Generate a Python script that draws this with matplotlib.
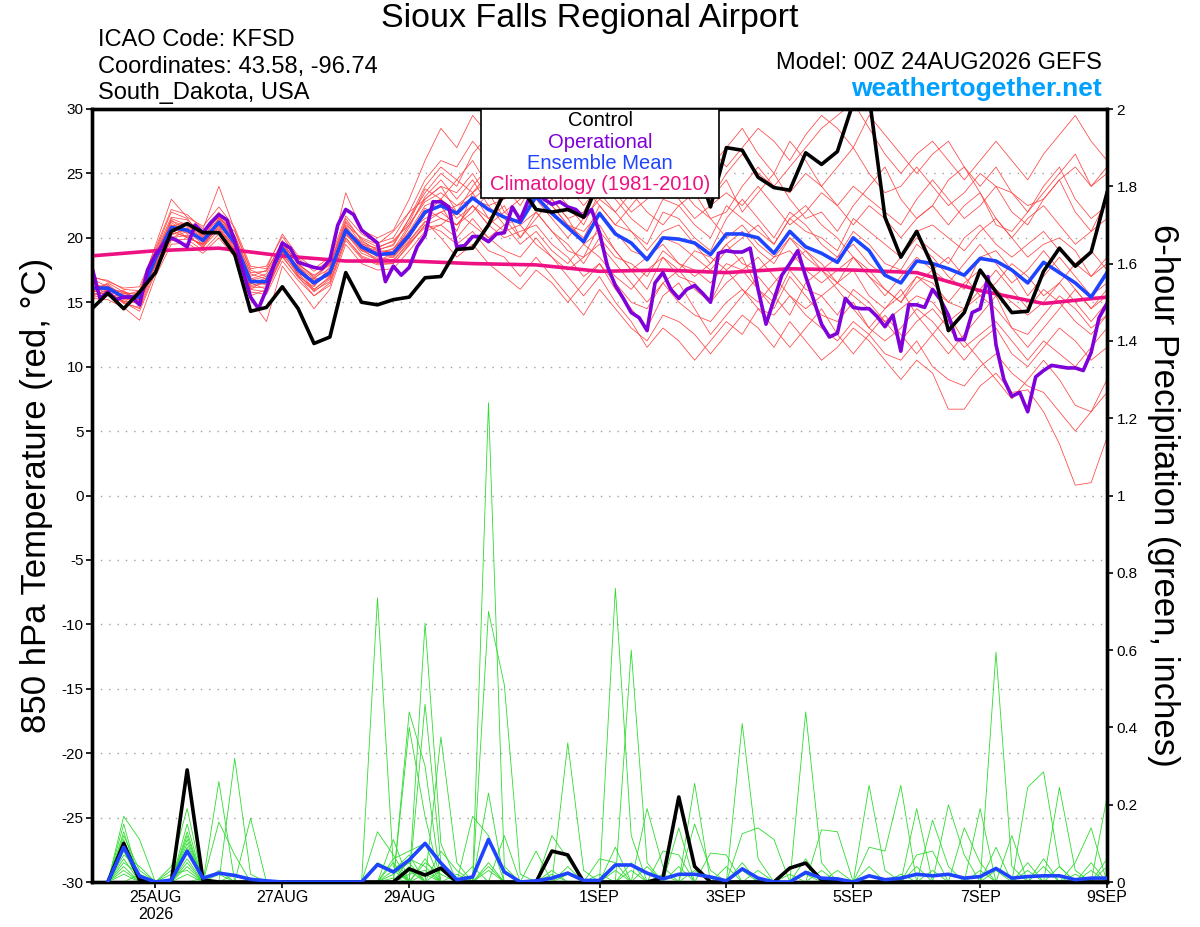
import numpy as np
import matplotlib
matplotlib.use("Agg")
import matplotlib.pyplot as plt
from matplotlib.patches import Rectangle

plt.rcParams['font.family'] = ['Liberation Sans', 'DejaVu Sans']

# ---------------- data ----------------
title = "Sioux Falls Regional Airport"
info_left = ["ICAO Code: KFSD", "Coordinates: 43.58, -96.74", "South_Dakota, USA"]
model_txt = "Model: 00Z 24AUG2026 GEFS"
site_txt = "weathertogether.net"
legend_labels = ["Control", "Operational", "Ensemble Mean", "Climatology (1981-2010)"]

# x in 6-hour steps from 00Z 24AUG2026
xtick_pos = [4, 12, 20, 32, 40, 48, 56, 64]
xtick_labels = ["25AUG\n2026", "27AUG", "29AUG", "1SEP", "3SEP", "5SEP", "7SEP", "9SEP"]
ytick_left = [-30, -25, -20, -15, -10, -5, 0, 5, 10, 15, 20, 25, 30]
ytick_right = [0, 0.2, 0.4, 0.6, 0.8, 1, 1.2, 1.4, 1.6, 1.8, 2]
ytick_right_labels = ["0", "0.2", "0.4", "0.6", "0.8", "1", "1.2", "1.4", "1.6", "1.8", "2"]

# control 850 hPa temperature (6-hourly, 65 values)
control_t = [14.5, 15.7, 14.5, 15.8, 17.3, 20.5, 21.1, 20.4, 20.4, 18.7,
             14.3, 14.6, 16.2, 14.5, 11.8, 12.3, 17.3, 15.0, 14.8, 15.2,
             15.4, 16.9, 17.0, 19.1, 19.2, 21.0, 23.5, 24.0, 22.2, 22.0,
             22.2, 21.6, 24.5, 26.0, 25.0, 27.0, 26.0, 25.0, 26.0, 22.4,
             27.0, 26.8, 24.7, 23.9, 23.7, 26.6, 25.7, 26.7, 30.5, 31.0,
             21.6, 18.5, 20.5, 17.8, 12.8, 14.2, 17.5, 15.8, 14.2, 14.3,
             17.4, 19.2, 17.8, 18.9, 23.5]

# ensemble mean temperature (6-hourly)
mean_t = [16.1, 16.1, 15.4, 15.4, 18.4, 20.8, 20.6, 19.8, 21.2, 19.6,
          16.6, 16.6, 19.2, 17.5, 16.5, 17.3, 20.6, 19.3, 18.7, 18.8,
          20.2, 22.0, 22.5, 21.9, 23.1, 22.2, 21.6, 21.2, 23.2, 21.9,
          20.8, 19.7, 21.9, 20.3, 19.6, 18.3, 20.0, 19.9, 19.6, 18.7,
          20.3, 20.3, 20.0, 18.8, 20.5, 19.3, 18.8, 18.1, 20.0, 19.0,
          17.1, 16.5, 18.2, 18.0, 17.6, 17.1, 18.4, 18.2, 17.5, 16.5,
          18.1, 17.3, 16.5, 15.4, 17.3]

# operational temperature (3-hourly, 129 values)
oper_t = [17.7, 15.3, 15.8, 15.2, 15.4, 15.4, 14.8, 17.5, 18.7, 19.5,
          20.0, 19.7, 19.3, 21.0, 20.4, 21.2, 21.8, 21.4, 19.8, 17.5,
          15.4, 14.5, 16.0, 18.0, 19.6, 19.2, 18.1, 17.9, 17.7, 17.6,
          18.3, 21.0, 22.2, 21.8, 20.6, 20.1, 19.6, 16.6, 17.8, 17.1,
          17.7, 19.3, 20.2, 22.8, 22.8, 22.4, 19.3, 19.4, 20.1, 20.1,
          19.7, 20.3, 20.4, 22.4, 21.4, 22.9, 23.5, 23.0, 22.6, 22.8,
          22.4, 22.2, 21.6, 22.2, 20.4, 17.8, 16.3, 15.3, 14.2, 13.8,
          12.8, 16.5, 17.3, 16.0, 15.3, 16.0, 16.3, 15.7, 15.0, 18.8,
          19.0, 18.9, 18.9, 19.2, 16.0, 13.3, 15.2, 17.1, 18.0, 19.0,
          17.0, 15.2, 13.3, 12.3, 12.6, 15.3, 14.6, 14.5, 14.5, 13.9,
          13.1, 14.0, 11.2, 14.8, 14.8, 14.6, 16.0, 15.2, 14.0, 12.1,
          12.1, 14.2, 14.5, 17.0, 11.7, 9.0, 7.7, 8.0, 6.5, 9.2,
          9.7, 10.1, 10.0, 9.9, 9.9, 9.7, 11.1, 13.8, 14.9]

# climatology (daily, 17 values)
clim_t = [18.6, 19.0, 19.2, 18.6, 18.2, 18.2, 18.0, 17.9, 17.4, 17.5,
          17.3, 17.6, 17.5, 17.3, 15.9, 14.9, 15.4]

# ensemble members temperature (6-hourly, 65 values each)
mem_t01 = [16.5, 16.0, 15.8, 15.0, 18.0, 21.5, 21.0, 20.5, 22.0, 20.0,
           17.0, 17.5, 19.5, 18.0, 17.0, 18.0, 21.0, 20.0, 19.5, 20.5,
           22.0, 24.5, 26.0, 25.5, 27.5, 26.0, 28.5, 27.0, 29.5, 28.0,
           26.5, 27.5, 29.0, 28.0, 26.0, 27.5, 28.5, 26.0, 27.0, 25.5,
           27.0, 28.5, 26.5, 25.0, 27.5, 26.0, 24.0, 25.5, 27.0, 25.0,
           23.5, 24.0, 25.5, 24.0, 22.5, 23.5, 25.0, 24.0, 22.0, 21.0,
           23.0, 24.5, 22.0, 20.5, 23.0]
mem_t02 = [15.5, 15.8, 15.0, 14.5, 17.5, 20.0, 20.5, 19.5, 20.8, 19.0,
           15.5, 16.0, 18.5, 17.0, 15.5, 16.5, 20.0, 18.5, 18.0, 18.0,
           19.5, 21.0, 20.5, 19.5, 20.5, 19.0, 18.5, 17.0, 18.5, 17.0,
           15.5, 14.0, 16.0, 14.5, 13.0, 12.0, 14.0, 13.5, 12.5, 11.0,
           12.5, 14.0, 13.0, 11.5, 13.5, 12.0, 10.5, 11.5, 13.0, 12.0,
           10.5, 9.0, 10.5, 9.5, 6.7, 6.7, 8.5, 9.5, 8.0, 8.2,
           6.5, 4.0, 0.8, 1.0, 4.5]
mem_t03 = [16.0, 15.5, 15.5, 15.2, 18.5, 21.0, 20.0, 19.5, 21.5, 20.5,
           17.5, 17.0, 19.0, 17.5, 16.0, 17.0, 20.5, 19.5, 18.5, 19.0,
           20.5, 22.5, 23.0, 21.5, 22.5, 21.0, 20.0, 20.5, 21.0, 19.5,
           18.5, 17.0, 18.0, 16.5, 15.0, 14.5, 16.5, 15.0, 14.0, 13.5,
           15.0, 16.0, 14.5, 14.0, 15.5, 14.0, 13.0, 12.0, 13.5, 12.5,
           11.0, 10.5, 12.0, 10.0, 9.0, 8.5, 10.0, 11.0, 9.5, 8.5,
           8.0, 6.5, 5.0, 6.5, 8.0]
mem_t04 = [16.8, 16.2, 15.0, 15.8, 19.0, 22.0, 21.5, 20.0, 21.8, 19.8,
           16.0, 16.8, 19.8, 17.2, 16.8, 18.0, 21.5, 19.8, 19.0, 19.5,
           21.5, 23.5, 25.0, 24.0, 26.5, 28.0, 27.0, 29.0, 30.5, 28.5,
           27.0, 25.0, 26.5, 28.0, 29.5, 30.5, 28.0, 26.5, 24.5, 23.0,
           24.5, 22.0, 23.5, 25.0, 23.0, 21.5, 22.0, 20.5, 22.5, 24.0,
           25.5, 23.0, 21.5, 22.5, 24.5, 25.5, 23.5, 21.0, 20.5, 22.0,
           24.0, 25.5, 23.0, 21.5, 22.5]
mem_t05 = [15.8, 16.5, 15.8, 15.5, 17.8, 20.5, 21.0, 20.2, 21.0, 19.5,
           16.5, 16.0, 18.8, 17.8, 16.5, 17.5, 20.8, 19.0, 18.8, 18.5,
           20.0, 22.0, 22.5, 20.5, 23.5, 21.5, 22.5, 20.0, 22.0, 20.5,
           19.0, 18.5, 21.0, 19.0, 17.5, 16.0, 18.5, 17.0, 16.5, 15.0,
           17.5, 18.5, 16.0, 14.5, 17.0, 15.5, 14.0, 13.5, 15.0, 13.0,
           14.5, 16.0, 14.0, 12.5, 11.0, 12.5, 14.0, 15.5, 13.0, 11.5,
           13.0, 14.5, 16.0, 14.5, 15.5]
mem_t06 = [16.3, 15.9, 15.6, 14.8, 18.8, 21.2, 20.3, 19.2, 21.4, 20.0,
           16.8, 17.2, 19.5, 17.0, 16.2, 17.8, 21.2, 19.5, 19.2, 19.8,
           21.0, 23.0, 24.0, 23.5, 25.0, 23.0, 24.5, 23.5, 25.5, 24.0,
           22.5, 21.0, 23.5, 22.0, 20.5, 19.5, 22.0, 21.5, 20.0, 19.0,
           21.5, 23.0, 21.5, 20.0, 22.0, 21.0, 19.5, 18.5, 20.5, 19.5,
           18.0, 17.5, 19.5, 18.5, 17.0, 16.0, 18.5, 19.0, 17.5, 15.5,
           17.0, 18.5, 17.0, 15.5, 16.5]
mem_t07 = [15.7, 16.3, 15.2, 15.6, 18.2, 20.2, 20.8, 20.0, 20.5, 19.0,
           16.2, 16.5, 19.0, 17.8, 16.8, 17.0, 20.2, 19.2, 18.2, 18.8,
           20.5, 21.5, 22.0, 22.5, 23.0, 22.5, 21.0, 21.5, 23.5, 22.5,
           21.0, 20.0, 22.5, 21.0, 20.5, 19.0, 20.5, 21.0, 19.5, 18.0,
           19.5, 20.5, 19.0, 18.0, 20.0, 18.5, 17.5, 16.5, 18.5, 17.0,
           16.0, 15.0, 17.0, 16.5, 15.0, 14.5, 16.0, 17.5, 16.0, 14.5,
           16.0, 15.0, 13.5, 12.5, 14.0]
mem_t08 = [16.0, 16.0, 15.3, 15.2, 18.6, 20.6, 20.0, 19.5, 21.0, 19.8,
           16.6, 16.4, 19.3, 17.6, 16.4, 17.4, 20.6, 19.6, 18.8, 18.6,
           20.0, 21.8, 23.0, 22.0, 24.0, 25.5, 24.0, 22.5, 24.5, 25.5,
           24.0, 22.5, 24.0, 25.5, 27.0, 26.0, 24.5, 27.5, 28.5, 27.0,
           25.5, 27.0, 28.5, 27.5, 26.0, 28.0, 29.5, 28.5, 27.0, 29.5,
           28.0, 26.5, 25.0, 26.5, 27.5, 25.5, 24.0, 25.5, 23.5, 22.0,
           23.5, 25.0, 26.5, 24.0, 25.5]
mem_t09 = [16.2, 15.7, 15.7, 15.3, 18.0, 21.0, 20.7, 19.6, 21.2, 19.3,
           16.4, 16.9, 19.1, 17.4, 16.7, 17.2, 20.8, 19.1, 18.6, 19.2,
           20.3, 22.3, 21.5, 21.0, 22.5, 21.5, 20.5, 21.0, 22.0, 20.5,
           19.5, 18.0, 20.0, 18.5, 18.0, 17.0, 19.0, 18.0, 17.5, 16.5,
           18.0, 17.5, 16.0, 15.0, 17.5, 16.0, 15.5, 14.0, 16.0, 15.0,
           13.5, 12.0, 13.5, 14.5, 13.0, 11.5, 12.5, 13.5, 12.0, 10.5,
           12.0, 11.0, 10.0, 11.5, 13.0]
mem_t10 = [16.4, 16.1, 15.5, 15.9, 18.3, 20.9, 21.2, 20.4, 21.6, 20.2,
           17.2, 16.8, 19.6, 18.0, 16.9, 17.6, 20.9, 19.4, 19.0, 18.9,
           20.8, 23.2, 24.5, 23.0, 24.5, 22.5, 23.0, 24.0, 25.0, 23.0,
           21.5, 22.0, 24.5, 23.0, 21.5, 20.5, 23.0, 22.5, 21.0, 20.0,
           22.5, 21.5, 20.5, 19.5, 21.5, 20.5, 20.0, 19.0, 21.5, 20.5,
           19.5, 18.5, 20.5, 21.0, 20.0, 19.0, 20.5, 21.5, 20.0, 18.5,
           19.5, 20.0, 19.0, 17.0, 18.5]
mem_t11 = [15.9, 15.6, 15.1, 14.9, 18.1, 20.4, 20.1, 19.4, 20.9, 19.2,
           16.1, 16.2, 18.7, 17.3, 15.8, 16.8, 20.4, 18.8, 18.3, 18.5,
           19.8, 21.3, 20.0, 18.5, 19.5, 18.0, 17.0, 16.0, 17.5, 16.5,
           15.0, 16.5, 18.0, 16.0, 14.5, 13.0, 15.5, 16.5, 14.5, 12.5,
           14.0, 15.5, 17.0, 15.5, 14.0, 16.5, 17.5, 16.0, 14.5, 13.0,
           12.0, 13.0, 14.5, 13.5, 12.0, 10.5, 12.0, 13.0, 11.0, 10.0,
           11.5, 13.0, 12.0, 10.5, 11.5]
mem_t12 = [16.1, 16.4, 15.4, 15.4, 18.5, 21.3, 20.9, 20.1, 21.5, 19.9,
           16.9, 16.3, 19.4, 17.7, 16.6, 17.1, 20.7, 19.3, 18.9, 19.1,
           21.0, 22.8, 23.5, 22.5, 23.5, 24.5, 22.0, 23.0, 24.0, 22.5,
           21.0, 20.5, 22.0, 20.5, 19.0, 18.5, 20.0, 19.5, 18.5, 17.5,
           19.0, 20.0, 21.0, 19.5, 21.5, 22.5, 21.0, 20.0, 18.5, 17.0,
           15.5, 17.0, 18.5, 17.5, 16.5, 18.0, 19.5, 18.0, 16.5, 17.5,
           19.0, 17.5, 16.0, 14.5, 16.0]
mem_t13 = [16.6, 15.8, 15.9, 15.1, 18.7, 21.4, 20.4, 19.9, 21.3, 19.7,
           16.7, 17.0, 19.2, 17.5, 16.3, 17.3, 20.5, 19.7, 19.1, 19.4,
           21.5, 24.0, 25.5, 24.5, 23.5, 25.0, 26.5, 25.0, 26.5, 25.0,
           23.5, 24.5, 26.0, 24.5, 23.0, 24.5, 26.5, 25.5, 24.0, 23.0,
           25.0, 26.5, 25.0, 24.0, 25.5, 27.0, 28.5, 29.5, 30.5, 28.5,
           26.5, 25.0, 26.5, 27.5, 26.0, 24.5, 26.0, 27.5, 26.0, 24.5,
           26.5, 28.0, 29.5, 27.5, 26.0]
mem_t14 = [15.6, 15.9, 14.9, 14.6, 17.9, 20.3, 20.6, 19.7, 20.7, 19.1,
           16.3, 16.6, 18.9, 17.1, 16.0, 16.9, 20.3, 19.0, 18.4, 18.3,
           19.6, 20.8, 21.0, 20.0, 21.5, 20.0, 19.0, 18.5, 20.0, 18.5,
           17.0, 15.5, 17.0, 15.0, 13.5, 11.5, 13.0, 12.0, 10.5, 12.0,
           13.5, 12.5, 14.5, 13.0, 11.5, 13.0, 14.5, 12.5, 11.0, 12.5,
           14.0, 12.5, 11.0, 12.5, 14.0, 12.0, 10.5, 9.0, 7.5, 9.0,
           10.5, 9.0, 7.0, 6.5, 9.0]
mem_t15 = [16.2, 16.2, 15.7, 15.7, 18.9, 21.6, 21.4, 20.3, 21.7, 20.1,
           17.3, 17.4, 19.7, 17.9, 17.1, 17.9, 21.3, 19.9, 19.3, 19.7,
           21.2, 23.8, 23.0, 24.5, 26.0, 24.0, 25.0, 26.5, 27.5, 26.0,
           25.0, 23.5, 25.0, 23.5, 22.0, 23.0, 24.5, 23.0, 21.5, 22.5,
           23.5, 22.5, 24.0, 22.5, 21.0, 22.0, 23.5, 22.5, 21.0, 22.5,
           21.5, 20.0, 21.5, 22.5, 21.0, 22.5, 23.5, 21.5, 20.0, 21.5,
           22.5, 21.0, 19.5, 20.5, 21.5]
mem_t16 = [15.4, 15.5, 15.0, 14.3, 17.3, 19.8, 19.9, 19.0, 20.3, 18.8,
           15.8, 15.6, 18.2, 16.7, 15.5, 16.3, 19.8, 18.4, 17.9, 18.0,
           19.4, 21.0, 21.5, 21.0, 22.0, 23.5, 21.5, 20.0, 21.5, 23.0,
           21.5, 19.5, 20.5, 19.0, 17.5, 18.5, 19.5, 18.0, 17.0, 18.0,
           19.5, 18.0, 17.5, 18.5, 19.0, 17.5, 16.5, 17.5, 18.5, 17.5,
           16.0, 15.0, 16.5, 17.5, 18.5, 17.0, 15.5, 16.5, 18.0, 17.0,
           15.5, 16.5, 18.0, 19.0, 17.5]
mem_t17 = [17.0, 16.6, 16.1, 16.2, 19.2, 22.2, 21.8, 20.7, 24.0, 20.6,
           17.6, 17.8, 20.1, 18.4, 17.4, 18.3, 21.7, 20.3, 19.6, 20.0,
           22.0, 23.0, 24.0, 22.0, 23.0, 24.0, 25.5, 24.0, 23.0, 21.5,
           20.0, 21.5, 23.0, 22.0, 23.5, 22.0, 21.0, 22.5, 23.5, 21.5,
           20.0, 21.0, 19.5, 18.5, 20.0, 19.0, 17.5, 18.5, 19.5, 18.0,
           17.0, 18.5, 20.0, 19.0, 18.0, 20.0, 21.0, 19.5, 18.5, 19.5,
           20.5, 19.0, 18.0, 17.0, 18.0]
mem_t18 = [15.3, 15.2, 14.6, 13.6, 17.0, 19.5, 19.6, 18.8, 20.0, 18.5,
           15.2, 13.5, 17.8, 16.2, 14.5, 16.0, 19.5, 18.0, 17.5, 17.6,
           19.0, 20.5, 21.0, 22.0, 21.0, 20.0, 21.0, 19.5, 20.5, 19.0,
           18.0, 19.5, 18.5, 17.0, 16.0, 17.5, 18.5, 17.5, 16.0, 15.0,
           16.5, 17.5, 18.5, 17.0, 15.5, 14.5, 15.5, 16.5, 17.5, 15.5,
           14.5, 15.5, 17.0, 16.0, 15.0, 16.5, 17.5, 16.0, 15.0, 14.0,
           15.0, 16.5, 15.0, 13.5, 15.0]
mem_t19 = [16.9, 16.7, 16.0, 15.9, 19.4, 23.0, 21.6, 20.9, 22.4, 20.8,
           17.8, 17.6, 20.3, 18.6, 17.6, 18.5, 23.5, 20.6, 20.0, 20.6,
           23.0, 26.0, 28.5, 27.0, 29.5, 28.0, 26.5, 25.0, 26.0, 24.5,
           23.0, 24.0, 22.5, 21.0, 22.5, 24.0, 25.5, 24.0, 22.5, 21.5,
           22.0, 24.0, 25.5, 24.0, 23.5, 25.0, 24.0, 22.5, 24.0, 23.0,
           22.0, 21.0, 23.0, 24.5, 23.0, 21.5, 22.5, 24.0, 23.5, 22.5,
           23.0, 24.5, 25.5, 24.0, 25.0]
mem_t20 = [15.5, 16.0, 15.3, 15.0, 17.6, 20.0, 20.2, 19.3, 20.6, 19.4,
           16.0, 15.8, 18.6, 16.9, 15.9, 16.6, 20.0, 18.6, 18.1, 18.2,
           19.7, 21.2, 22.0, 21.0, 22.5, 21.0, 22.0, 21.0, 19.5, 18.5,
           17.5, 18.5, 19.5, 18.0, 16.5, 15.0, 16.5, 17.5, 19.0, 18.5,
           17.5, 16.0, 15.0, 16.5, 18.0, 19.0, 18.0, 16.5, 15.5, 14.5,
           13.5, 14.5, 15.5, 15.0, 13.5, 14.5, 15.5, 14.5, 13.0, 12.5,
           14.0, 15.5, 14.5, 13.0, 14.0]

# 6-hour precipitation (index in 6-h steps 1..64 : inches, zero elsewhere)
ctrl_p = {2: 0.10, 3: 0.005, 6: 0.29, 7: 0.005, 20: 0.034, 21: 0.018, 22: 0.036,
          29: 0.08, 30: 0.07, 36: 0.01, 37: 0.22, 38: 0.04, 44: 0.036, 45: 0.049,
          46: 0.005}
mean_p = {2: 0.09, 3: 0.015, 5: 0.005, 6: 0.08, 7: 0.01, 8: 0.023, 9: 0.017,
          10: 0.007, 11: 0.003, 18: 0.045, 19: 0.026, 20: 0.057, 21: 0.10,
          22: 0.049, 23: 0.006, 24: 0.013, 25: 0.11, 26: 0.026, 28: 0.003,
          29: 0.01, 30: 0.023, 31: 0.004, 32: 0.004, 33: 0.044, 34: 0.044,
          35: 0.023, 36: 0.008, 37: 0.02, 38: 0.02, 39: 0.013, 40: 0.003,
          41: 0.034, 42: 0.01, 45: 0.025, 46: 0.01, 47: 0.008, 49: 0.016,
          50: 0.006, 51: 0.01, 52: 0.02, 53: 0.016, 54: 0.02, 55: 0.01,
          56: 0.014, 57: 0.035, 58: 0.01, 59: 0.014, 60: 0.016, 61: 0.016,
          62: 0.006, 63: 0.01, 64: 0.01}
mem_p01 = {2: 0.17, 3: 0.11, 6: 0.10, 18: 0.735, 19: 0.04, 21: 0.06, 25: 0.05,
           33: 0.76, 34: 0.12, 41: 0.05, 57: 0.09, 60: 0.06}
mem_p02 = {2: 0.15, 5: 0.04, 6: 0.19, 9: 0.02, 20: 0.44, 21: 0.30, 25: 0.23,
           30: 0.04, 38: 0.255, 45: 0.06, 52: 0.19, 64: 0.22}
mem_p03 = {2: 0.13, 6: 0.15, 8: 0.26, 19: 0.11, 21: 0.67, 22: 0.10, 26: 0.12,
           34: 0.60, 35: 0.05, 49: 0.25, 50: 0.03, 59: 0.05}
mem_p04 = {2: 0.12, 3: 0.03, 6: 0.13, 9: 0.32, 10: 0.02, 20: 0.40, 21: 0.17,
           25: 1.24, 26: 0.04, 37: 0.14, 45: 0.44, 46: 0.05, 61: 0.04}
mem_p05 = {2: 0.10, 6: 0.11, 10: 0.165, 18: 0.13, 19: 0.07, 22: 0.375, 23: 0.05,
           30: 0.36, 31: 0.03, 41: 0.41, 42: 0.06, 54: 0.20, 55: 0.07}
mem_p06 = {2: 0.08, 5: 0.03, 6: 0.08, 8: 0.155, 9: 0.07, 21: 0.46, 22: 0.05,
           25: 0.70, 26: 0.51, 27: 0.02, 33: 0.09, 38: 0.15, 39: 0.03,
           57: 0.595, 58: 0.04}
mem_p07 = {2: 0.06, 6: 0.06, 19: 0.06, 20: 0.08, 21: 0.10, 24: 0.17, 25: 0.12,
           29: 0.12, 30: 0.06, 35: 0.19, 36: 0.04, 46: 0.135, 47: 0.13,
           56: 0.19, 63: 0.05}
mem_p08 = {2: 0.05, 3: 0.02, 6: 0.04, 18: 0.05, 19: 0.03, 20: 0.07, 22: 0.08,
           23: 0.03, 28: 0.08, 32: 0.06, 33: 0.05, 41: 0.125, 42: 0.14,
           43: 0.11, 59: 0.245, 60: 0.285, 61: 0.04}
mem_p09 = {2: 0.04, 5: 0.02, 6: 0.03, 8: 0.03, 20: 0.06, 21: 0.04, 24: 0.04,
           29: 0.03, 34: 0.05, 36: 0.08, 37: 0.07, 49: 0.09, 50: 0.08,
           51: 0.25, 62: 0.05, 63: 0.14}
mem_p10 = {2: 0.02, 7: 0.01, 19: 0.02, 20: 0.05, 22: 0.03, 32: 0.02, 39: 0.075,
           40: 0.07, 53: 0.16, 54: 0.04, 61: 0.245, 62: 0.03}
mem_p11 = {3: 0.02, 20: 0.03, 40: 0.04, 47: 0.03, 52: 0.07, 53: 0.08,
           55: 0.14, 56: 0.05, 64: 0.06}
mem_p12 = {19: 0.03, 44: 0.02, 58: 0.12}
mem_p13 = {2: 0.09, 6: 0.12, 20: 0.02, 21: 0.03, 25: 0.04, 30: 0.02, 34: 0.03,
           38: 0.03, 45: 0.02, 53: 0.03, 60: 0.04}
mem_p14 = {2: 0.11, 6: 0.09, 8: 0.02, 19: 0.05, 21: 0.05, 22: 0.02, 33: 0.03,
           35: 0.04, 41: 0.03, 49: 0.04, 56: 0.03, 63: 0.03}
mem_p15 = {2: 0.07, 3: 0.04, 6: 0.05, 20: 0.04, 23: 0.02, 29: 0.02, 36: 0.02,
           42: 0.03, 52: 0.04, 57: 0.03, 64: 0.04}
mem_p16 = {2: 0.03, 6: 0.02, 19: 0.01, 21: 0.02, 25: 0.03, 37: 0.04, 46: 0.03,
           51: 0.02, 59: 0.03, 62: 0.02}

temp_members = [mem_t01, mem_t02, mem_t03, mem_t04, mem_t05, mem_t06, mem_t07,
                mem_t08, mem_t09, mem_t10, mem_t11, mem_t12, mem_t13, mem_t14,
                mem_t15, mem_t16, mem_t17, mem_t18, mem_t19, mem_t20]
precip_members = [mem_p01, mem_p02, mem_p03, mem_p04, mem_p05, mem_p06, mem_p07,
                  mem_p08, mem_p09, mem_p10, mem_p11, mem_p12, mem_p13, mem_p14,
                  mem_p15, mem_p16]

# ---------------- helpers ----------------
x6 = np.arange(65)            # 6-hourly steps
x3 = np.arange(129) / 2.0     # 3-hourly steps
xd = np.arange(17) * 4.0      # daily steps
xp = np.arange(1, 65)         # precip steps


def precip_series(d):
    return np.array([d.get(i, 0.0) for i in range(1, 65)])


C_RED = '#ff4545'
C_GREEN = '#2edc2e'
C_OPER = '#7f00d8'
C_MEAN = '#1f44ff'
C_CLIM = '#ee1183'

# ---------------- figure ----------------
fig = plt.figure(figsize=(12, 9.27), dpi=100)
L, R, B, T = 92 / 1200, 1107 / 1200, (927 - 882) / 927, (927 - 109) / 927
ax = fig.add_axes([L, B, R - L, T - B])
ax2 = ax.twinx()

ax.set_xlim(0, 64)
ax.set_ylim(-30, 30)
ax2.set_ylim(0, 2)

for yv in ytick_left[1:-1]:
    ax.axhline(yv, color='#a0a0a0', lw=1.0, ls=(0, (1, 5)), zorder=0)

for m in temp_members:
    ax.plot(x6, m, color=C_RED, lw=0.55, zorder=2)

ax.plot(xd, clim_t, color=C_CLIM, lw=2.6, zorder=4)
ax.plot(x6, mean_t, color=C_MEAN, lw=2.6, zorder=5)
ax.plot(x3, oper_t, color=C_OPER, lw=2.6, zorder=6)
ax.plot(x6, control_t, color='black', lw=2.6, zorder=7)

for m in precip_members:
    ax2.plot(xp, precip_series(m), color=C_GREEN, lw=0.6, zorder=2)
ax2.plot(xp, precip_series(ctrl_p), color='black', lw=2.6, zorder=4)
ax2.plot(xp, precip_series(mean_p), color=C_MEAN, lw=2.6, zorder=5)

# ticks
ax.set_yticks(ytick_left)
ax.set_yticklabels([str(v) for v in ytick_left], fontsize=11)
ax2.set_yticks(ytick_right)
ax2.set_yticklabels(ytick_right_labels, fontsize=11)
ax.set_xticks(xtick_pos)
ax.set_xticklabels(xtick_labels, fontsize=11.5, linespacing=1.1)
ax.tick_params(axis='both', direction='out', length=4, width=1.2, pad=2)
ax2.tick_params(axis='y', direction='out', length=4, width=1.2, pad=3)
for a in (ax, ax2):
    for s in a.spines.values():
        s.set_linewidth(2.4)

ax.set_ylabel("850 hPa Temperature (red, °C)", fontsize=25, labelpad=6)
ax2.set_ylabel("6-hour Precipitation (green, inches)", fontsize=25,
               rotation=-90, labelpad=30)

# legend box
ax2.add_patch(Rectangle((0.383, 0.885), 0.235, 0.115, transform=ax2.transAxes,
                        facecolor='white', edgecolor='black', lw=1.2,
                        zorder=20, clip_on=False))
leg_colors = ['black', C_OPER, C_MEAN, C_CLIM]
leg_y = [0.9845, 0.957, 0.930, 0.9017]
for lab, c, yy in zip(legend_labels, leg_colors, leg_y):
    ax2.text(0.5005, yy, lab, transform=ax2.transAxes, ha='center', va='center',
             fontsize=14.5, color=c, zorder=21)

# header text
fig.text(590 / 1200, 1 - 18 / 927, title, ha='center', va='center', fontsize=24.5)
for k, t in enumerate(info_left):
    fig.text(98 / 1200, 1 - (40 + 26.5 * k) / 927, t, ha='left', va='center',
             fontsize=17)
fig.text(1102 / 1200, 1 - 63 / 927, model_txt, ha='right', va='center', fontsize=17)
fig.text(1102 / 1200, 1 - 89 / 927, site_txt, ha='right', va='center', fontsize=19,
         fontweight='bold', color='#00a0ff')

fig.savefig("out.png", dpi=100)
